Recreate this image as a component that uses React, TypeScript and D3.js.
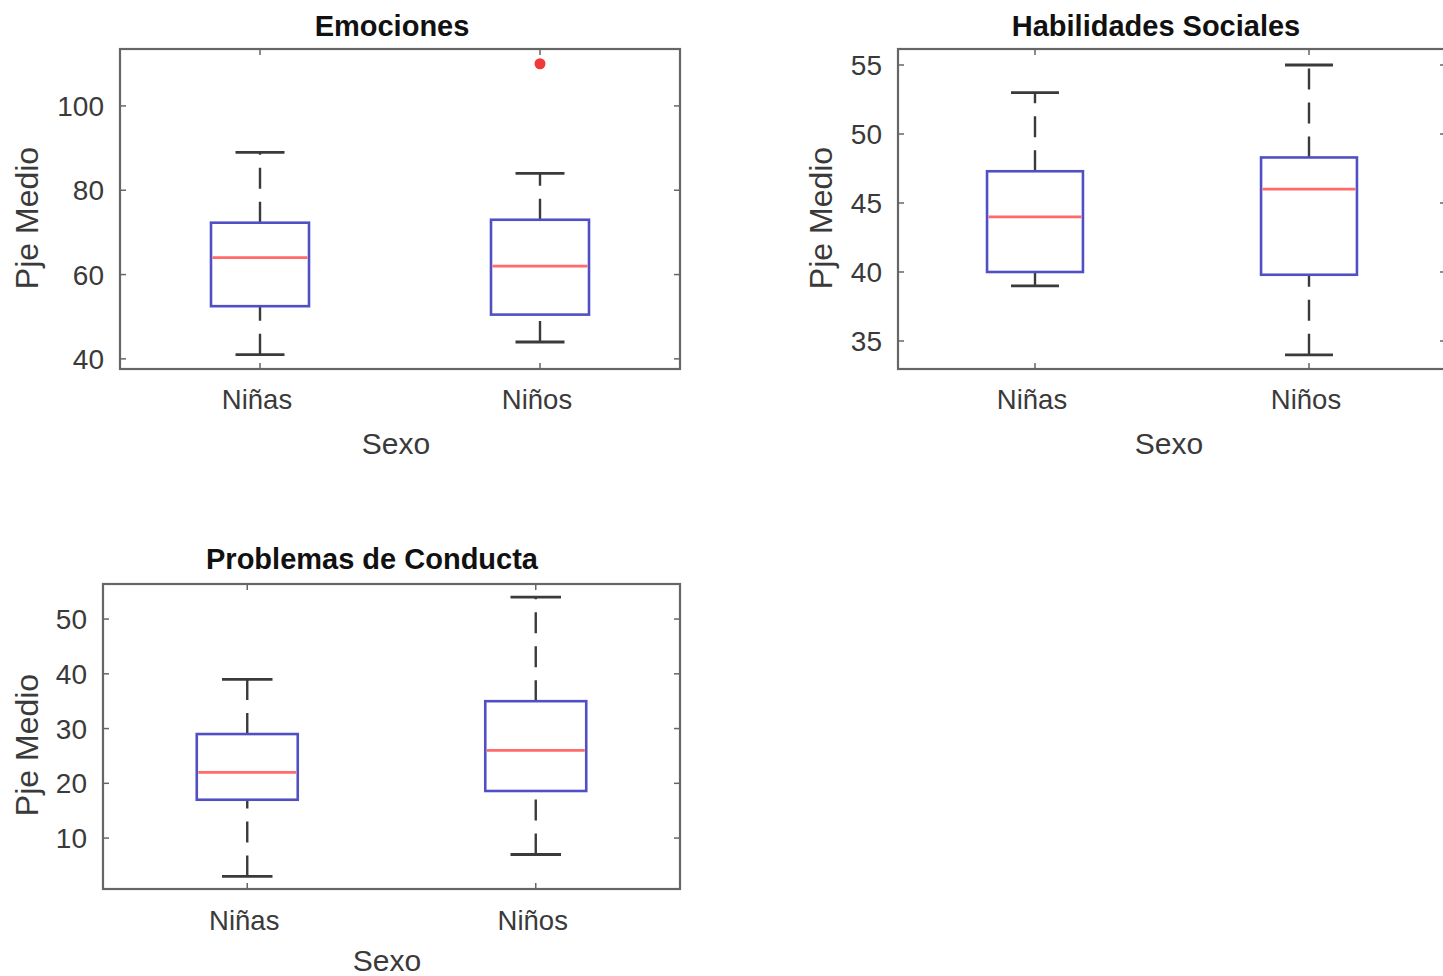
import React from "react";
import * as d3 from "d3";

const categories = ["Niñas", "Niños"];

// Emociones
const emoMin = [41, 44];
const emoQ1 = [52.5, 50.5];
const emoMed = [64, 62];
const emoQ3 = [72.3, 73];
const emoMax = [89, 84];
const emoOutliers = [[], [110]];
const emoTicks = [40, 60, 80, 100];
const emoDomain = [37.6, 113.5];

// Habilidades Sociales
const habMin = [39, 34];
const habQ1 = [40, 39.8];
const habMed = [44, 46];
const habQ3 = [47.3, 48.3];
const habMax = [53, 55];
const habOutliers = [[], []];
const habTicks = [35, 40, 45, 50, 55];
const habDomain = [32.97, 56.16];

// Problemas de Conducta
const conMin = [3, 7];
const conQ1 = [17, 18.6];
const conMed = [22, 26];
const conQ3 = [29, 35];
const conMax = [39, 54];
const conOutliers = [[], []];
const conTicks = [10, 20, 30, 40, 50];
const conDomain = [0.7, 56.4];

const FONT = "'Liberation Sans', Arial, Helvetica, sans-serif";

type PanelProps = {
  title: string;
  mins: number[];
  q1s: number[];
  meds: number[];
  q3s: number[];
  maxs: number[];
  outliers: number[][];
  ticks: number[];
  domain: number[];
  left: number;
  top: number;
  width: number;
  height: number;
  titleX: number;
  titleY: number;
  xLabelX: number;
  xLabelY: number;
  yLabelX: number;
  yLabelY: number;
  catLabelY: number;
};

function Panel(p: PanelProps) {
  const x = d3.scalePoint<string>().domain(categories).range([p.left, p.left + p.width]).padding(0.5);
  const y = d3.scaleLinear().domain(p.domain).range([p.top + p.height, p.top]);
  const boxW = p.width * 0.175;
  const capW = boxW * 0.5;
  const right = p.left + p.width;
  const bottom = p.top + p.height;
  const tickLen = 6;
  return (
    <g>
      <rect x={p.left} y={p.top} width={p.width} height={p.height} fill="#fff" stroke="#666" strokeWidth={2.2} />
      {p.ticks.map((t) => (
        <g key={"yt" + t}>
          <line x1={p.left} x2={p.left + tickLen} y1={y(t)} y2={y(t)} stroke="#666" strokeWidth={1.5} />
          <line x1={right} x2={right - tickLen} y1={y(t)} y2={y(t)} stroke="#666" strokeWidth={1.5} />
          <text x={p.left - 16} y={y(t)} dy="0.36em" textAnchor="end" fontSize={28} fill="#3a3a3a" fontFamily={FONT}>
            {t}
          </text>
        </g>
      ))}
      {categories.map((c, i) => {
        const cx = x(c) as number;
        return (
          <g key={c}>
            <line x1={cx} x2={cx} y1={bottom} y2={bottom - tickLen} stroke="#666" strokeWidth={1.5} />
            <line x1={cx} x2={cx} y1={p.top} y2={p.top + tickLen} stroke="#666" strokeWidth={1.5} />
            <text x={cx - 3} y={p.catLabelY} textAnchor="middle" fontSize={27.5} fill="#3a3a3a" fontFamily={FONT}>
              {c}
            </text>
            {/* whiskers */}
            <line x1={cx} x2={cx} y1={y(p.q3s[i])} y2={y(p.maxs[i])} stroke="#3a3a3a" strokeWidth={2.4} strokeDasharray="21,13" />
            <line x1={cx} x2={cx} y1={y(p.mins[i])} y2={y(p.q1s[i])} stroke="#3a3a3a" strokeWidth={2.4} strokeDasharray="21,13" />
            <line x1={cx - capW / 2} x2={cx + capW / 2} y1={y(p.maxs[i])} y2={y(p.maxs[i])} stroke="#3a3a3a" strokeWidth={2.8} />
            <line x1={cx - capW / 2} x2={cx + capW / 2} y1={y(p.mins[i])} y2={y(p.mins[i])} stroke="#3a3a3a" strokeWidth={2.8} />
            {/* box */}
            <rect
              x={cx - boxW / 2}
              y={y(p.q3s[i])}
              width={boxW}
              height={y(p.q1s[i]) - y(p.q3s[i])}
              fill="none"
              stroke="#5050c4"
              strokeWidth={2.6}
            />
            <line x1={cx - boxW / 2 + 1.5} x2={cx + boxW / 2 - 1.5} y1={y(p.meds[i])} y2={y(p.meds[i])} stroke="#ff6a6a" strokeWidth={2.8} />
            {p.outliers[i].map((o, j) => (
              <circle key={j} cx={cx} cy={y(o)} r={5.5} fill="#f03a3a" />
            ))}
          </g>
        );
      })}
      <text x={p.titleX} y={p.titleY} textAnchor="middle" fontSize={29} fontWeight="bold" fill="#111" fontFamily={FONT}>
        {p.title}
      </text>
      <text x={p.xLabelX} y={p.xLabelY} textAnchor="middle" fontSize={30} fill="#3a3a3a" fontFamily={FONT}>
        Sexo
      </text>
      <text
        transform={`translate(${p.yLabelX},${p.yLabelY}) rotate(-90)`}
        textAnchor="middle"
        fontSize={32}
        fill="#3a3a3a"
        fontFamily={FONT}
      >
        Pje Medio
      </text>
    </g>
  );
}

export default function App() {
  return (
    <svg
      width={1443}
      height={976}
      style={{ position: "absolute", left: 0, top: 0, background: "#fff" }}
    >
      <rect x={0} y={0} width={1443} height={976} fill="#fff" />
      <Panel
        title="Emociones"
        mins={emoMin}
        q1s={emoQ1}
        meds={emoMed}
        q3s={emoQ3}
        maxs={emoMax}
        outliers={emoOutliers}
        ticks={emoTicks}
        domain={emoDomain}
        left={120}
        top={49}
        width={560}
        height={320}
        titleX={392}
        titleY={36}
        xLabelX={396}
        xLabelY={454}
        yLabelX={38}
        yLabelY={218}
        catLabelY={409}
      />
      <Panel
        title="Habilidades Sociales"
        mins={habMin}
        q1s={habQ1}
        meds={habMed}
        q3s={habQ3}
        maxs={habMax}
        outliers={habOutliers}
        ticks={habTicks}
        domain={habDomain}
        left={898}
        top={49}
        width={548}
        height={320}
        titleX={1156}
        titleY={36}
        xLabelX={1169}
        xLabelY={454}
        yLabelX={832}
        yLabelY={218}
        catLabelY={409}
      />
      <Panel
        title="Problemas de Conducta"
        mins={conMin}
        q1s={conQ1}
        meds={conMed}
        q3s={conQ3}
        maxs={conMax}
        outliers={conOutliers}
        ticks={conTicks}
        domain={conDomain}
        left={103}
        top={584}
        width={577}
        height={305}
        titleX={372}
        titleY={569}
        xLabelX={387}
        xLabelY={971}
        yLabelX={38}
        yLabelY={745}
        catLabelY={930}
      />
    </svg>
  );
}
